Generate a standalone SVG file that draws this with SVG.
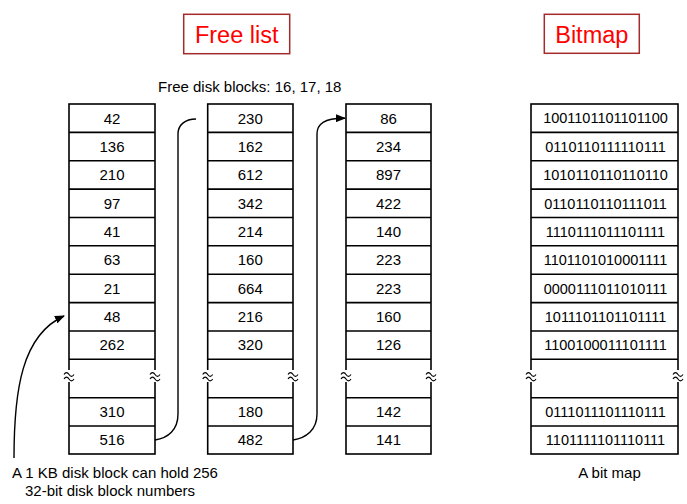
<svg xmlns="http://www.w3.org/2000/svg" width="687" height="504" viewBox="0 0 687 504">
<style>
  .cell{fill:#fff;stroke:#000;stroke-width:1.6}
  .ln{stroke:#000;stroke-width:1.6;fill:none}
  .num{font-family:"Liberation Sans",Arial,sans-serif;font-size:15px;fill:#000;text-anchor:middle}
  .bits{font-family:"Liberation Sans",Arial,sans-serif;font-size:14.5px;fill:#000;text-anchor:middle}
  .lbl{font-family:"Liberation Sans",Arial,sans-serif;font-size:15px;fill:#000}
  .title{font-family:"Liberation Sans",Arial,sans-serif;font-size:23.5px;fill:#ff0000;text-anchor:middle}
  .tbox{fill:#fff;stroke:#a52a2a;stroke-width:1.5}
  .conn{stroke:#000;stroke-width:1.4;fill:none}
  .brk{stroke:#000;stroke-width:1.1;fill:none}
</style>
<defs>
  <marker id="ah" markerWidth="10" markerHeight="8" refX="9" refY="4" orient="auto" markerUnits="userSpaceOnUse">
    <path d="M0,0 L10,4 L0,8 Z" fill="#000"/>
  </marker>
  <g id="tilde">
    <rect x="-6" y="-6" width="12" height="12" fill="#fff"/>
    <path class="brk" d="M-5,-1.5 C-3.5,-4 -1.5,-4 0,-1.5 S3.5,1 5,-1.5 M-5,3 C-3.5,0.5 -1.5,0.5 0,3 S3.5,5.5 5,3"/>
  </g>
</defs>
<rect width="687" height="504" fill="#fff"/>

<g id="title-freelist">
  <rect class="tbox" x="183.7" y="14.3" width="106" height="39.4"/>
  <text class="title" x="236.7" y="43">Free list</text>
</g>
<g id="title-bitmap">
  <rect class="tbox" x="544.3" y="14.3" width="95" height="39"/>
  <text class="title" x="591.8" y="43.3">Bitmap</text>
</g>

<g id="label-free-blocks">
  <text class="lbl" x="158" y="92">Free disk blocks: 16, 17, 18</text>
</g>

<g id="block1">
  <rect class="cell" x="69" y="104" width="86" height="350"/>
  <path class="ln" d="M69,132.4H155M69,160.7H155M69,189.1H155M69,217.5H155M69,245.8H155M69,274.2H155M69,302.6H155M69,331H155M69,359.3H155M69,397.7H155M69,426H155"/>
  <use href="#tilde" x="69" y="376"/><use href="#tilde" x="155" y="376"/>
  <text class="num" x="112" y="123.5">42</text>
  <text class="num" x="112" y="151.8">136</text>
  <text class="num" x="112" y="180.2">210</text>
  <text class="num" x="112" y="208.6">97</text>
  <text class="num" x="112" y="236.9">41</text>
  <text class="num" x="112" y="265.3">63</text>
  <text class="num" x="112" y="293.7">21</text>
  <text class="num" x="112" y="322.1">48</text>
  <text class="num" x="112" y="350.4">262</text>
  <text class="num" x="112" y="417.1">310</text>
  <text class="num" x="112" y="445.3">516</text>
</g>

<g id="block2">
  <rect class="cell" x="207.7" y="104" width="85.3" height="350"/>
  <path class="ln" d="M207.7,132.4H293M207.7,160.7H293M207.7,189.1H293M207.7,217.5H293M207.7,245.8H293M207.7,274.2H293M207.7,302.6H293M207.7,331H293M207.7,359.3H293M207.7,397.7H293M207.7,426H293"/>
  <use href="#tilde" x="207.7" y="376"/><use href="#tilde" x="293" y="376"/>
  <text class="num" x="250.3" y="123.5">230</text>
  <text class="num" x="250.3" y="151.8">162</text>
  <text class="num" x="250.3" y="180.2">612</text>
  <text class="num" x="250.3" y="208.6">342</text>
  <text class="num" x="250.3" y="236.9">214</text>
  <text class="num" x="250.3" y="265.3">160</text>
  <text class="num" x="250.3" y="293.7">664</text>
  <text class="num" x="250.3" y="322.1">216</text>
  <text class="num" x="250.3" y="350.4">320</text>
  <text class="num" x="250.3" y="417.1">180</text>
  <text class="num" x="250.3" y="445.3">482</text>
</g>

<g id="block3">
  <rect class="cell" x="346" y="104" width="85" height="350"/>
  <path class="ln" d="M346,132.4H431M346,160.7H431M346,189.1H431M346,217.5H431M346,245.8H431M346,274.2H431M346,302.6H431M346,331H431M346,359.3H431M346,397.7H431M346,426H431"/>
  <use href="#tilde" x="346" y="376"/><use href="#tilde" x="431" y="376"/>
  <text class="num" x="388.5" y="123.5">86</text>
  <text class="num" x="388.5" y="151.8">234</text>
  <text class="num" x="388.5" y="180.2">897</text>
  <text class="num" x="388.5" y="208.6">422</text>
  <text class="num" x="388.5" y="236.9">140</text>
  <text class="num" x="388.5" y="265.3">223</text>
  <text class="num" x="388.5" y="293.7">223</text>
  <text class="num" x="388.5" y="322.1">160</text>
  <text class="num" x="388.5" y="350.4">126</text>
  <text class="num" x="388.5" y="417.1">142</text>
  <text class="num" x="388.5" y="445.3">141</text>
</g>

<g id="bitmap">
  <rect class="cell" x="531" y="104" width="147" height="350"/>
  <path class="ln" d="M531,132.4H678M531,160.7H678M531,189.1H678M531,217.5H678M531,245.8H678M531,274.2H678M531,302.6H678M531,331H678M531,359.3H678M531,397.7H678M531,426H678"/>
  <use href="#tilde" x="531" y="376"/><use href="#tilde" x="678" y="376"/>
  <text class="bits" x="605.5" y="123.4">1001101101101100</text>
  <text class="bits" x="605.5" y="151.7">0110110111110111</text>
  <text class="bits" x="605.5" y="180.1">1010110110110110</text>
  <text class="bits" x="605.5" y="208.5">0110110110111011</text>
  <text class="bits" x="605.5" y="236.8">1110111011101111</text>
  <text class="bits" x="605.5" y="265.2">1101101010001111</text>
  <text class="bits" x="605.5" y="293.6">0000111011010111</text>
  <text class="bits" x="605.5" y="322">1011101101101111</text>
  <text class="bits" x="605.5" y="350.3">1100100011101111</text>
  <text class="bits" x="605.5" y="417">0111011101110111</text>
  <text class="bits" x="605.5" y="445.2">1101111101110111</text>
</g>

<g id="connectors">
  <path class="conn" d="M155,440 C168,438 178,430 178,414 L178,134 C178,125 185,119 196,119"/>
  <path class="conn" d="M293,440 C306,438 317,430 317,414 L317,134 C317,124 324,118 345,118.3" marker-end="url(#ah)"/>
  <path class="conn" d="M14,458 C14,390 22,335 64,316" marker-end="url(#ah)"/>
</g>

<g id="label-block-capacity">
  <text class="lbl" x="12" y="478">A 1 KB disk block can hold 256</text>
  <text class="lbl" x="25" y="496">32-bit disk block numbers</text>
</g>
<g id="label-bitmap">
  <text class="lbl" x="609.5" y="478" text-anchor="middle">A bit map</text>
</g>
</svg>
